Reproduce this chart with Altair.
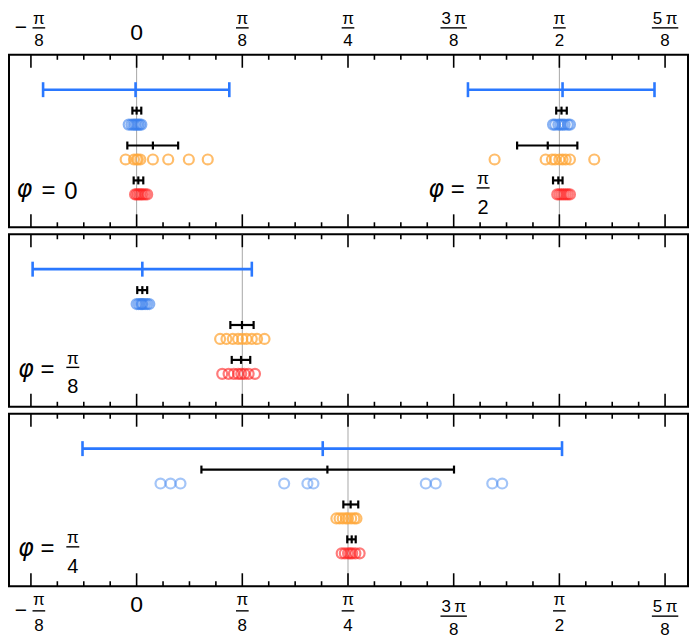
import altair as alt
import pandas as pd

# All x values are in units of pi/8.
# ---------------- Panel A : phi = 0 and phi = pi/2 ----------------
a0_blue = [-0.075, -0.05, -0.03, -0.015, 0.0, 0.015, 0.03, 0.045]
a0_orange = [-0.104, -0.025, 0.0, 0.012, 0.035, 0.154, 0.299, 0.494, 0.673]
a0_red = [-0.015, 0.0, 0.015, 0.03, 0.045, 0.06, 0.08, 0.10]
a4_blue = [3.94, 3.96, 3.99, 4.01, 4.03, 4.05, 4.08, 4.10]
a4_orange = [3.387, 3.87, 3.93, 3.96, 4.0, 4.03, 4.06, 4.10, 4.33]
a4_red = [3.98, 4.0, 4.02, 4.04, 4.06, 4.08, 4.10]
# ---------------- Panel B : phi = pi/8 ----------------
b_blue = [0.0, 0.02, 0.04, 0.05, 0.06, 0.08, 0.10, 0.12]
b_orange = [0.79, 0.85, 0.91, 0.96, 1.0, 1.04, 1.09, 1.14, 1.21]
b_red = [0.81, 0.87, 0.92, 0.96, 0.99, 1.02, 1.06, 1.12]
# ---------------- Panel C : phi = pi/4 ----------------
c_blue = [0.226, 0.321, 0.415, 1.396, 1.616, 1.673, 2.736, 2.830, 3.365, 3.459]
c_orange = [1.89, 1.92, 1.95, 1.98, 2.0, 2.03, 2.06, 2.08]
c_red = [1.94, 1.97, 2.0, 2.02, 2.04, 2.07, 2.11]

# error bars (low, centre, high)
a0_bars = {"wide": (-0.885, -0.01, 0.877), "blue": (-0.04, 0.0, 0.044),
           "orange": (-0.088, 0.154, 0.393), "red": (-0.028, 0.016, 0.063)}
a4_bars = {"wide": (3.135, 4.03, 4.90), "blue": (3.97, 4.02, 4.07),
           "orange": (3.60, 3.89, 4.17), "red": (3.94, 3.99, 4.03)}
b_bars = {"wide": (-0.984, 0.054, 1.09), "blue": (0.006, 0.054, 0.10),
          "orange": (0.887, 0.997, 1.107), "red": (0.90, 0.988, 1.075)}
c_bars = {"wide": (-0.512, 1.761, 4.025), "blue": (0.613, 1.805, 3.003),
          "orange": (1.956, 2.025, 2.097), "red": (1.993, 2.035, 2.073)}

true_A = [0, 4]
true_B = [1]
true_C = [2]

# axis labels
tick_vals = [-1, 0, 1, 2, 3, 4, 5]
tick_num = ["π", "0", "π", "π", "3\u2009π", "π", "5\u2009π"]
tick_den = ["8", "", "8", "4", "8", "2", "8"]
tick_sign = ["−", "", "", "", "", "", ""]
major_ticks = [-1, 0, 1, 2, 3, 4, 5]
minor_ticks = [-0.75, -0.5, -0.25, 0.25, 0.5, 0.75, 1.25, 1.5, 1.75, 2.25, 2.5, 2.75,
               3.25, 3.5, 3.75, 4.25, 4.5, 4.75]

# ---------------- styling ----------------
W, H = 681, 173
ROWPX = 35.0
FONT = "Liberation Sans"
PHIFONT = "DejaVu Sans"
BLUE_BAR = "#2a78ff"
COLORS = {"blue": ("#3a80ee", 0.6), "blue_light": ("#4a8cf2", 0.5),
          "orange": ("#ffa83a", 0.75), "red": ("#ff2424", 0.6)}
ROW = {"blue": 2, "orange": 3, "red": 4}

XS = alt.Scale(domain=[-1.2075, 5.217], nice=False, zero=False)
YS = alt.Scale(domain=[0, H / ROWPX], nice=False, zero=False, reverse=True)


def pts_df(groups):
    rows = []
    for series, vals in groups:
        key = "blue" if series.startswith("blue") else series
        for v in vals:
            rows.append({"series": series, "x": v, "row": ROW[key]})
    return pd.DataFrame(rows)


def bars_df(bar_sets):
    rows = []
    for bars in bar_sets:
        for k, (lo, c, hi) in bars.items():
            row = 1 if k == "wide" else ROW[k] - 0.4
            rows.append({"kind": k, "lo": lo, "c": c, "hi": hi, "row": row})
    return pd.DataFrame(rows)


def base_layers(true_vals):
    layers = []
    layers.append(alt.Chart(pd.DataFrame({"x": true_vals})).mark_rule(
        color="#a8a8a8", strokeWidth=1).encode(
        x=alt.X("x:Q", scale=XS, axis=None), y=alt.value(0), y2=alt.value(H)))
    for ticks, ln in [(major_ticks, 13), (minor_ticks, 5)]:
        d = pd.DataFrame({"t": ticks})
        layers.append(alt.Chart(d).mark_rule(color="black", strokeWidth=1.6).encode(
            x=alt.X("t:Q", scale=XS, axis=None), y=alt.value(0), y2=alt.value(ln)))
        layers.append(alt.Chart(d).mark_rule(color="black", strokeWidth=1.6).encode(
            x=alt.X("t:Q", scale=XS, axis=None), y=alt.value(H - ln), y2=alt.value(H)))
    return layers


def data_layers(pts, bars):
    layers = []
    for s in ["blue", "blue_light", "orange", "red"]:
        d = pts[pts.series == s]
        if len(d) == 0:
            continue
        col, op = COLORS[s]
        layers.append(alt.Chart(d).mark_point(
            shape="circle", filled=False, size=100, strokeWidth=2.2,
            color=col, opacity=op).encode(
            x=alt.X("x:Q", scale=XS, axis=None),
            y=alt.Y("row:Q", scale=YS, axis=None)))
    wide = bars[bars.kind == "wide"]
    black = bars[bars.kind != "wide"]
    for d, col, sw, cap in [(wide, BLUE_BAR, 2.6, 15), (black, "black", 2.2, 8)]:
        layers.append(alt.Chart(d).mark_rule(color=col, strokeWidth=sw).encode(
            x=alt.X("lo:Q", scale=XS, axis=None), x2="hi:Q",
            y=alt.Y("row:Q", scale=YS, axis=None)))
        layers.append(alt.Chart(d).transform_fold(["lo", "c", "hi"], as_=["k", "v"]).mark_tick(
            color=col, orient="vertical", size=cap, thickness=sw, opacity=1).encode(
            x=alt.X("v:Q", scale=XS, axis=None),
            y=alt.Y("row:Q", scale=YS, axis=None)))
    return layers


def text_at(txt, x, y, size, font=FONT, italic=False, baseline="alphabetic"):
    return alt.Chart(pd.DataFrame({"a": [0]})).mark_text(
        text=txt, font=font, fontSize=size, align="center", baseline=baseline,
        fontStyle="italic" if italic else "normal", color="black").encode(
        x=alt.value(x), y=alt.value(y))


def phi_label(xphi, num=None, den=None, zero=False):
    layers = [text_at("φ", xphi, 143, 24, font=PHIFONT, italic=True)]
    if zero:
        layers.append(text_at("=", xphi + 24, 144, 24))
        layers.append(text_at("0", xphi + 46.5, 145, 24))
    else:
        layers.append(text_at("=", xphi + 21.5, 143, 24))
        xc = xphi + 47
        layers.append(text_at(num, xc, 130, 17))
        layers.append(alt.Chart(pd.DataFrame({"a": [0]})).mark_rule(
            color="black", strokeWidth=1.4).encode(
            x=alt.value(xc - 6.5), x2=alt.value(xc + 6.5), y=alt.value(133.5)))
        layers.append(text_at(den, xc, 159.5, 20))
    return layers


lab = pd.DataFrame({"val": tick_vals, "num": tick_num, "den": tick_den, "sign": tick_sign})
lab["xc"] = lab["val"] + lab["sign"].map(lambda s: 0.075 if s else 0.0)
lab["half"] = lab["num"].map(lambda s: 0.06 if len(s) == 1 else 0.125)
lab["lo"] = lab["xc"] - lab["half"]
lab["hi"] = lab["xc"] + lab["half"]


def axis_labels(d, ynum, ybar, yden):
    layers = []
    if len(d) == 0:
        return layers
    tx = dict(font=FONT, fontSize=17, align="center", baseline="alphabetic", color="black")
    layers.append(alt.Chart(d).mark_text(**tx).encode(
        x=alt.X("xc:Q", scale=XS, axis=None), y=alt.value(ynum), text="num:N"))
    layers.append(alt.Chart(d).mark_rule(color="black", strokeWidth=1.4).encode(
        x=alt.X("lo:Q", scale=XS, axis=None), x2="hi:Q", y=alt.value(ybar)))
    layers.append(alt.Chart(d).mark_text(**tx).encode(
        x=alt.X("xc:Q", scale=XS, axis=None), y=alt.value(yden), text="den:N"))
    neg = d[d.sign != ""]
    if len(neg):
        layers.append(alt.Chart(neg).mark_text(font=FONT, fontSize=21, align="center",
                                                baseline="middle", dx=-10, color="black").encode(
            x=alt.X("val:Q", scale=XS, axis=None), y=alt.value(ybar), text="sign:N"))
    return layers


frac = lab[lab.den != ""]
zero = lab[lab.den == ""]
short = frac[frac.num.str.len() == 1]
long_ = frac[frac.num.str.len() > 1]

top_labels = axis_labels(frac, -31, -27, -9) + [
    alt.Chart(zero).mark_text(font=FONT, fontSize=23, align="center", baseline="alphabetic",
                              color="black").encode(
        x=alt.X("val:Q", scale=XS, axis=None), y=alt.value(-15), text="num:N")]
bottom_labels = (axis_labels(short, H + 19, H + 24.7, H + 45)
                 + axis_labels(long_, H + 26, H + 30, H + 49)
                 + [alt.Chart(zero).mark_text(font=FONT, fontSize=23, align="center",
                                              baseline="alphabetic", color="black").encode(
                     x=alt.X("val:Q", scale=XS, axis=None), y=alt.value(H + 26), text="num:N")])

ptsA = pts_df([("blue", a0_blue + a4_blue), ("orange", a0_orange + a4_orange), ("red", a0_red + a4_red)])
ptsB = pts_df([("blue", b_blue), ("orange", b_orange), ("red", b_red)])
ptsC = pts_df([("blue_light", c_blue), ("orange", c_orange), ("red", c_red)])

pA = alt.layer(*(base_layers(true_A) + data_layers(ptsA, bars_df([a0_bars, a4_bars]))
                 + phi_label(15.5, zero=True) + phi_label(428.5, "π", "2") + top_labels)
               ).properties(width=W, height=H)
pB = alt.layer(*(base_layers(true_B) + data_layers(ptsB, bars_df([b_bars]))
                 + phi_label(17, "π", "8"))).properties(width=W, height=H)
pC = alt.layer(*(base_layers(true_C) + data_layers(ptsC, bars_df([c_bars]))
                 + phi_label(17, "π", "4") + bottom_labels)).properties(width=W, height=H)

chart = alt.vconcat(pA, pB, pC, spacing=3).properties(
    padding={"left": 0, "top": 0, "right": 0, "bottom": 0}, background="white"
).configure_view(stroke="black", strokeWidth=2)

chart.save("out.html", embed_options={"renderer": "svg", "actions": False})
